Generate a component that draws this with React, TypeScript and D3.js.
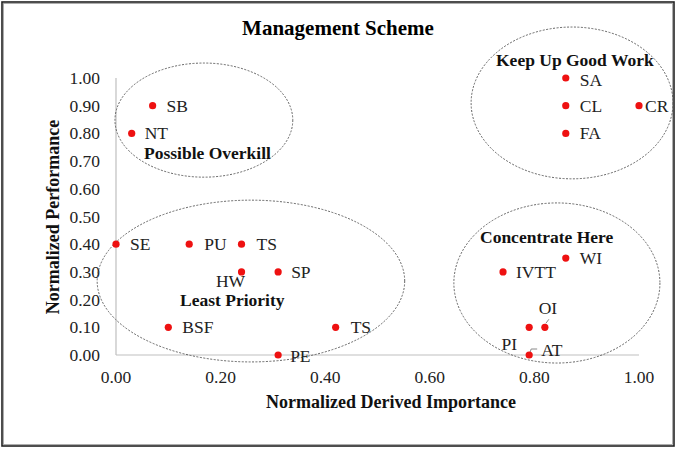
import React from "react";
import * as d3 from "d3";

const names = ["SB", "NT", "SE", "PU", "TS", "HW", "SP", "BSF", "PE", "TS", "IVTT", "WI", "OI", "PI", "AT", "SA", "CL", "FA", "CR"];
const importance = [0.07, 0.03, 0.0, 0.14, 0.24, 0.24, 0.31, 0.1, 0.31, 0.42, 0.74, 0.86, 0.82, 0.79, 0.79, 0.86, 0.86, 0.86, 1.0];
const performance = [0.9, 0.8, 0.4, 0.4, 0.4, 0.3, 0.3, 0.1, 0.0, 0.1, 0.3, 0.35, 0.1, 0.1, 0.0, 1.0, 0.9, 0.8, 0.9];
const xTicks = [0, 0.2, 0.4, 0.6, 0.8, 1.0];
const yTicks = [0, 0.1, 0.2, 0.3, 0.4, 0.5, 0.6, 0.7, 0.8, 0.9, 1.0];
const regionNames = ["Possible Overkill", "Keep Up Good Work", "Least Priority", "Concentrate Here"];
const regionCx = [0.168, 0.872, 0.258, 0.843];
const regionCy = [0.848, 0.91, 0.267, 0.26];
const regionRx = [0.17, 0.193, 0.294, 0.197];
const regionRy = [0.206, 0.274, 0.292, 0.289];

// label layout (pixel offsets from point): dx, dy(center)
const labelOffsets: [number, number, string?][] = [
  [14, 0], [13, 0], [14, 0], [15, 0], [15, 0], [-11, 9, "middle"], [13, 0], [14, 0], [12, 1], [15, 0],
  [13, 0], [14, 0], [3, -19, "middle"], [-12, 17, "end"], [12, -5], [14, 2], [14, 0], [14, 0], [6, 0],
];
// region label positions (pixels): x start, y center
const regionLabelPos: [number, number][] = [[144, 153], [496, 60], [180, 300], [480, 237]];

const W = 677, H = 449;
const serif = "'Liberation Serif', 'Times New Roman', serif";

export default function App() {
  const x = d3.scaleLinear().domain([0, 1]).range([116, 639]);
  const y = d3.scaleLinear().domain([0, 1]).range([355, 78]);
  const fmt = d3.format(".2f");
  return (
    <svg width={W} height={H} style={{ position: "absolute", left: 0, top: 0, background: "#fff" }} fontFamily={serif}>
      <rect x={0} y={0} width={W} height={H} fill="#fff" />
      <rect x={2} y={2} width={672} height={444} fill="none" stroke="#222" strokeWidth={1.6} />
      <rect x={3.5} y={3.5} width={669} height={441} fill="none" stroke="#999" strokeWidth={0.8} />
      <text x={338} y={35} textAnchor="middle" fontSize={21} fontWeight="bold" fill="#000">Management Scheme</text>
      {/* axes */}
      <line x1={x(0)} x2={x(0)} y1={y(1)} y2={y(0)} stroke="#bfbfbf" strokeWidth={1.2} />
      <line x1={x(0)} x2={x(1)} y1={y(0)} y2={y(0)} stroke="#bfbfbf" strokeWidth={1.2} />
      {yTicks.map((t) => (
        <text key={"y" + t} x={100} y={y(t) + 6} textAnchor="end" fontSize={17.5} fill="#222">{fmt(t)}</text>
      ))}
      {xTicks.map((t) => (
        <text key={"x" + t} x={x(t)} y={383} textAnchor="middle" fontSize={17.5} fill="#222">{fmt(t)}</text>
      ))}
      <text x={391} y={408} textAnchor="middle" fontSize={18} fontWeight="bold" fill="#111">Normalized Derived Importance</text>
      <text transform={`translate(59,217) rotate(-90)`} textAnchor="middle" fontSize={18} fontWeight="bold" fill="#111">Normalized Performance</text>
      {/* region ellipses */}
      {regionNames.map((r, i) => (
        <ellipse key={"e" + i} cx={x(regionCx[i])} cy={y(regionCy[i])} rx={x(regionRx[i]) - x(0)} ry={y(0) - y(regionRy[i])}
          fill="none" stroke="#555" strokeWidth={0.9} strokeDasharray="2,1.5" />
      ))}
      {/* leader lines */}
      <line x1={x(importance[12]) + 1} y1={y(performance[12]) - 4} x2={x(importance[12]) + 4} y2={y(performance[12]) - 8} stroke="#888" strokeWidth={1} />
      <polyline points={`${x(importance[14]) + 1},${y(performance[14]) - 3} ${x(importance[14]) + 2},${y(performance[14]) - 6} ${x(importance[14]) + 8},${y(performance[14]) - 6}`} fill="none" stroke="#888" strokeWidth={1} />
      {/* points */}
      {names.map((n, i) => (
        <circle key={"p" + i} cx={x(importance[i])} cy={y(performance[i])} r={3.6} fill="#ee1111" />
      ))}
      {names.map((n, i) => {
        const [dx, dy, anchor] = labelOffsets[i];
        return (
          <text key={"l" + i} x={x(importance[i]) + dx} y={y(performance[i]) + dy + 6} textAnchor={anchor || "start"} fontSize={17.5} fill="#222">{n}</text>
        );
      })}
      {regionNames.map((r, i) => (
        <text key={"r" + i} x={regionLabelPos[i][0]} y={regionLabelPos[i][1] + 6} fontSize={17.5} fontWeight="bold" fill="#111">{r}</text>
      ))}
    </svg>
  );
}
